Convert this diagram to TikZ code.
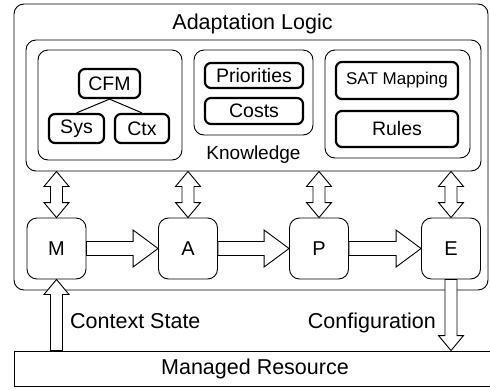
\documentclass[tikz,border=0pt]{standalone}
\usepackage{fontspec}
\setmainfont{Liberation Sans}
\usetikzlibrary{calc}

% block arrows: from, to, shaft half width, head half width, head length
\newcommand{\fatarrow}[5]{%
  \draw[fat] let \p1=(#1), \p2=(#2),
    \n1={atan2(\y2-\y1,\x2-\x1)}, \n2={veclen(\x2-\x1,\y2-\y1)} in
    [shift={(\p1)}, rotate=\n1]
    (0pt,{-#3pt}) -- ({\n2-#5pt},{-#3pt}) -- ({\n2-#5pt},{-#4pt}) -- ({\n2},0pt)
    -- ({\n2-#5pt},{#4pt}) -- ({\n2-#5pt},{#3pt}) -- (0pt,{#3pt}) -- cycle;}
\newcommand{\twinarrow}[2]{%
  \draw[fat] let \p1=(#1), \p2=(#2),
    \n1={atan2(\y2-\y1,\x2-\x1)}, \n2={veclen(\x2-\x1,\y2-\y1)} in
    [shift={(\p1)}, rotate=\n1]
    (0pt,0pt) -- (15pt,-12.5pt) -- (15pt,-6pt) -- ({\n2-15pt},-6pt) -- ({\n2-15pt},-12.5pt)
    -- ({\n2},0pt) -- ({\n2-15pt},12.5pt) -- ({\n2-15pt},6pt) -- (15pt,6pt) -- (15pt,12.5pt) -- cycle;}

\tikzset{
  box/.style={draw, rounded corners=10pt, line width=0.9pt, inner sep=0pt},
  item/.style={draw, rounded corners=6pt, line width=2.2pt, inner sep=0pt,
    font=\fontsize{19.5}{22}\selectfont},
  stage/.style={draw, rounded corners=10pt, line width=0.9pt, inner sep=0pt,
    minimum width=59pt, minimum height=61pt, font=\fontsize{20}{22}\selectfont},
  caption/.style={inner sep=0pt, anchor=base, font=\fontsize{21.5}{24}\selectfont},
  fat/.style={fill=white, line width=0.9pt, line join=miter},
}

\begin{document}
\begin{tikzpicture}[x=1pt,y=-1pt]
  \useasboundingbox (0,0) rectangle (490,389);

  % adaptation logic and knowledge
  \node[box, minimum width=474pt, minimum height=286pt] (logic) at (251,147) {};
  \node[caption] (title) at (252.5,29.5) {Adaptation Logic};
  \node[box, minimum width=455pt, minimum height=131pt] (know) at (253.5,105.5) {};
  \node[caption, font=\fontsize{19}{22}\selectfont] (knowlabel) at (253.5,159) {Knowledge};

  \node[box, minimum width=144pt, minimum height=110pt] (fmbox) at (110,105) {};
  \node[box, minimum width=119pt, minimum height=85pt] (prbox) at (253.5,92.5) {};
  \node[box, minimum width=145pt, minimum height=108pt] (satbox) at (397.5,104) {};

  \node[item, minimum width=61pt, minimum height=29pt] (cfm) at (109.5,83.5) {CFM};
  \node[item, minimum width=55pt, minimum height=29pt] (sys) at (76.5,128.5) {Sys};
  \node[item, minimum width=54pt, minimum height=29pt] (ctx) at (142,128.5) {Ctx};
  \draw[line width=1pt] (cfm.south) -- (sys.north);
  \draw[line width=1pt] (cfm.south) -- (ctx.north);

  \node[item, minimum width=98pt, minimum height=25pt] (prio) at (254,75.5) {Priorities};
  \node[item, minimum width=98pt, minimum height=26pt] (costs) at (254,111) {Costs};

  \node[item, minimum width=122pt, minimum height=37pt, font=\fontsize{17}{20}\selectfont] (sat) at (397,80.5) {SAT Mapping};
  \node[item, minimum width=122pt, minimum height=36pt] (rules) at (397,129) {Rules};

  % MAPE loop
  \node[stage] (M) at (56.5,248.5) {M};
  \node[stage] (A) at (188,248.5) {A};
  \node[stage] (P) at (319,248.5) {P};
  \node[stage] (E) at (451,248.5) {E};

  % managed resource
  \node[draw, line width=0.9pt, inner sep=0pt, minimum width=482pt, minimum height=35pt,
    font=\fontsize{21.5}{24}\selectfont] (res) at (255,368.5) {Managed Resource};

  \foreach \s in {M,A,P,E}
    \twinarrow{\s.north |- know.south}{\s.north};
  \foreach \a/\b in {M/A,A/P,P/E}
    \fatarrow{\a.east}{\b.west}{7}{18.5}{25};
  \fatarrow{M.south |- res.north}{M.south}{6}{12.5}{15};
  \fatarrow{E.south}{E.south |- res.north}{6}{12.5}{15};

  \node[caption, anchor=base west] (ctxstate) at (70,328) {Context State};
  \node[caption, anchor=base east] (config) at (436,328) {Configuration};
\end{tikzpicture}
\end{document}
